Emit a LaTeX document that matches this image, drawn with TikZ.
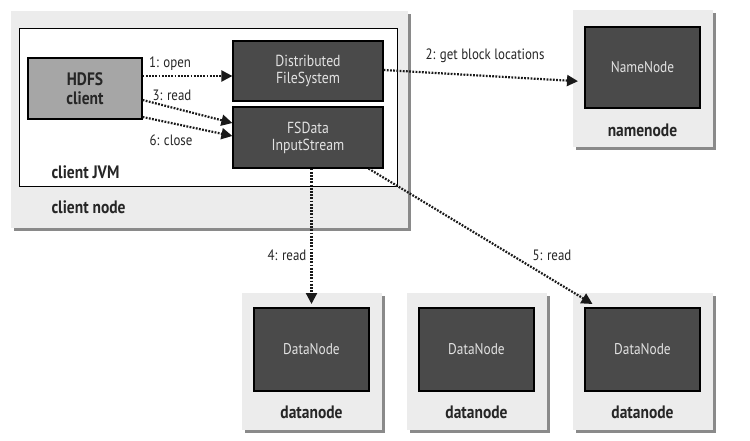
\documentclass[tikz,border=0pt]{standalone}
\usepackage{fontspec}
\setmainfont{PT Sans}[FakeStretch=0.86]
\usetikzlibrary{arrows.meta,calc}
\definecolor{boxbg}{HTML}{ECECEC}
\definecolor{shadowc}{HTML}{8A8A8A}
\definecolor{darkbox}{HTML}{4A4A4A}
\definecolor{darktext}{HTML}{E2E2E2}
\definecolor{clientbox}{HTML}{A6A6A6}
\tikzset{
  procbox/.style={fill=darkbox, draw=black, line width=1.2pt, text=darktext,
    minimum width=115pt, minimum height=82pt, inner sep=0pt, align=center,
    font=\fontsize{15.5}{16}\selectfont},
  compbox/.style={fill=darkbox, draw=black, line width=1.2pt, text=darktext,
    minimum width=150pt, minimum height=60pt, inner sep=0pt, align=center,
    font=\fontsize{16}{17}\selectfont},
  hostlabel/.style={font=\bfseries\fontsize{18}{19}\selectfont, text=black!85},
  msg/.style={font=\fontsize{15}{16}\selectfont, text=black!85, inner sep=0pt},
  call/.style={draw=black!90, line width=2.2pt, dash pattern=on 1.8pt off 1.4pt, -{Triangle[length=11pt,width=11pt]}},
}
\begin{document}
\begin{tikzpicture}[x=1pt,y=-1pt]
\useasboundingbox (0,0) rectangle (750,441);
\fill[white] (0,0) rectangle (750,441);
% client node host
\fill[shadowc] (14,14) rectangle (411,231);
\node[fill=boxbg, minimum width=397pt, minimum height=217pt, inner sep=0pt, anchor=north west] (clienthost) at (11,11) {};
\node[fill=white, draw=black, line width=1.2pt, minimum width=378pt, minimum height=158pt, inner sep=0pt, anchor=north west] (jvm) at (19,28) {};
\node[hostlabel, anchor=west] (jvmlabel) at (48,172) {client JVM};
\node[hostlabel, anchor=west] (cnlabel) at (48,207) {client node};
% components
\node[fill=clientbox, draw=black, line width=1.2pt, minimum width=114pt, minimum height=61pt, inner sep=0pt, align=center,
      font=\bfseries\fontsize{18}{19}\selectfont, text=black!85] (hdfs) at (85,88.5) {HDFS\\client};
\node[compbox] (dfs) at (308,71) {Distributed\\FileSystem};
\node[compbox, minimum height=61pt] (fsdis) at (308,137.5) {FSData\\InputStream};
% namenode host
\fill[shadowc] (576,13) rectangle (716,150);
\node[fill=boxbg, minimum width=140pt, minimum height=137pt, inner sep=0pt, anchor=north west] (nnhost) at (573,10) {};
\node[procbox, minimum height=81pt] (nn) at (642.5,67.5) {NameNode};
\node[hostlabel] (nnlabel) at (642.5,130) {namenode};
% datanode hosts
\foreach \n/\x in {1/311.5, 2/476.5, 3/642.5} {
  \fill[shadowc] (\x-67,296) rectangle (\x+73,433);
  \node[fill=boxbg, minimum width=140pt, minimum height=137pt, inner sep=0pt, anchor=north] (dnhost\n) at (\x,293) {};
  \node[procbox, minimum height=83pt] (dn\n) at (\x,349.5) {DataNode};
  \node[hostlabel] (dnlabel\n) at (\x,412) {datanode};
}
% calls
\draw[call] ([yshift=12.5pt]hdfs.east) -- ([yshift=-5pt]dfs.west);
\node[msg] (l1) at (170,64) {1: open};
\draw[call] ([yshift=-11.5pt]hdfs.east) -- ([yshift=14.5pt]fsdis.west);
\node[msg] (l3) at (172,95) {3: read};
\draw[call] ([yshift=-28.5pt]hdfs.east) -- ([yshift=1.5pt]fsdis.west);
\node[msg] (l6) at (171,140) {6: close};
\draw[call] ([yshift=1pt]dfs.east) -- ([xshift=5pt,yshift=-2.5pt]nnhost.west);
\node[msg] (l2) at (485,56) {2: get block locations};
\draw[call] (fsdis.south -| dn1.north) -- ([yshift=-11pt]dnhost1.north);
\node[msg] (l4) at (287,255) {4: read};
\draw[call] ([xshift=-15pt]fsdis.south east) -- ([xshift=-50pt,yshift=-11pt]dnhost3.north);
\node[msg] (l5) at (552,255) {5: read};
\end{tikzpicture}
\end{document}
